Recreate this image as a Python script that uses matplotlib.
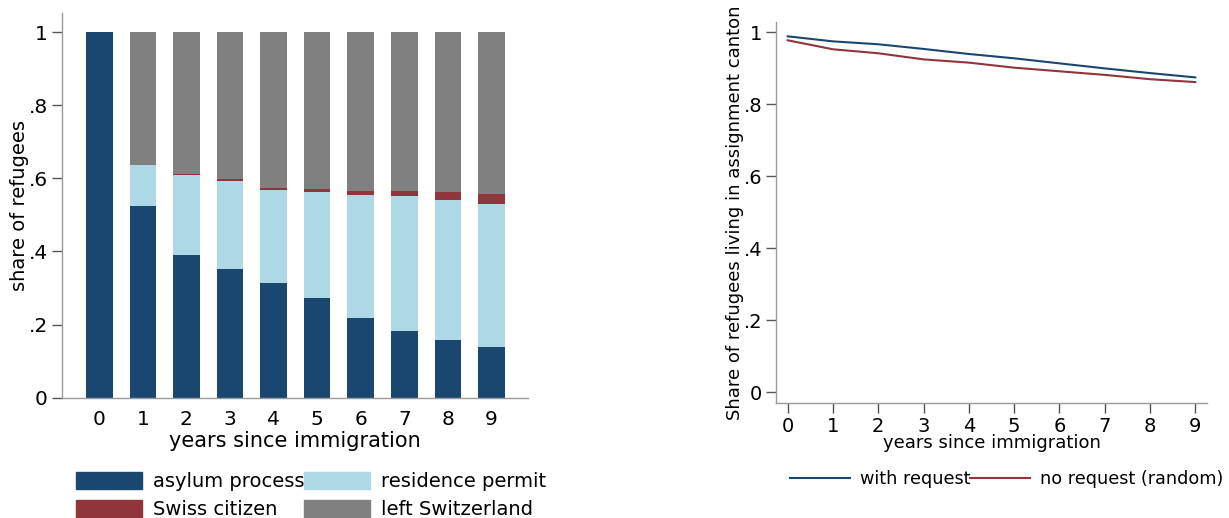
import numpy as np
import matplotlib
matplotlib.use("Agg")
import matplotlib.pyplot as plt
from matplotlib.patches import Patch
from matplotlib.lines import Line2D

# данные
years = np.arange(10)
asylum = [1.0, .524, .390, .352, .313, .273, .217, .182, .158, .138]
residence = [0.0, .111, .218, .241, .256, .289, .337, .370, .383, .393]
citizen = [0.0, .001, .004, .005, .004, .009, .011, .013, .021, .027]
left_ch = [1 - a - r - c for a, r, c in zip(asylum, residence, citizen)]

with_request = [.988, .974, .966, .953, .939, .927, .913, .899, .886, .874]
no_request = [.977, .952, .941, .924, .915, .901, .891, .881, .869, .861]

NAVY = '#1a476f'
LBLUE = '#add8e6'
MAROON = '#90353b'
GRAY = '#808080'
SPINE = '#9a9a9a'

W, H = 1229, 518
fig = plt.figure(figsize=(W / 100, H / 100), dpi=100)
plt.rcParams['font.family'] = 'DejaVu Sans'


def px_axes(l, r, b, t):
    return fig.add_axes([l / W, 1 - b / H, (r - l) / W, (b - t) / H])


# --- левый график: стековые столбцы ---
ax1 = px_axes(61.7, 528, 397.7, 13)
w = 0.61
bottom = np.zeros(10)
for vals, col, lab in [(asylum, NAVY, 'asylum process'),
                       (residence, LBLUE, 'residence permit'),
                       (citizen, MAROON, 'Swiss citizen'),
                       (left_ch, GRAY, 'left Switzerland')]:
    ax1.bar(years, vals, w, bottom=bottom, color=col, label=lab)
    bottom += np.array(vals)

ax1.set_xlim(-0.863, 9.84)
ax1.set_ylim(0, 1.052)
ax1.set_yticks([0, .2, .4, .6, .8, 1])
ax1.set_yticklabels(['0', '.2', '.4', '.6', '.8', '1'])
ax1.set_xticks(years)
ax1.tick_params(axis='y', length=7, width=1, color='#555555', labelsize=14.5, pad=3)
ax1.tick_params(axis='x', length=0, labelsize=14.5, pad=9)
ax1.set_xlabel('years since immigration', fontsize=15, labelpad=1.5)
ax1.set_ylabel('share of refugees', fontsize=14, labelpad=0)
for s in ['top', 'right']:
    ax1.spines[s].set_visible(False)
for s in ['left', 'bottom']:
    ax1.spines[s].set_color(SPINE)
    ax1.spines[s].set_linewidth(1)

handles = [Patch(color=NAVY), Patch(color=MAROON), Patch(color=LBLUE), Patch(color=GRAY)]
labels = ['asylum process', 'Swiss citizen', 'residence permit', 'left Switzerland']
fig.legend(handles, labels, ncol=2, loc='upper left',
           bbox_to_anchor=(76 / W, 1 - 472 / H), frameon=False, fontsize=14,
           handlelength=3.4, handleheight=1.0, handletextpad=0.55,
           columnspacing=0.0, labelspacing=0.45, borderpad=0, borderaxespad=0)

# --- правый график: линии ---
ax2 = px_axes(776, 1207.3, 403.3, 21.7)
ax2.plot(years, with_request, color=NAVY, lw=1.5)
ax2.plot(years, no_request, color=MAROON, lw=1.5)
ax2.set_xlim(-0.258, 9.265)
ax2.set_ylim(-0.0305, 1.0286)
ax2.set_yticks([0, .2, .4, .6, .8, 1])
ax2.set_yticklabels(['0', '.2', '.4', '.6', '.8', '1'])
ax2.set_xticks(years)
ax2.tick_params(length=7, width=1, color='#555555', labelsize=14, pad=3)
ax2.set_xlabel('years since immigration', fontsize=13, labelpad=-1.5)
ax2.set_ylabel('Share of refugees living in assignment canton', fontsize=13, labelpad=-0.5)
for s in ['top', 'right']:
    ax2.spines[s].set_visible(False)
for s in ['left', 'bottom']:
    ax2.spines[s].set_color(SPINE)
    ax2.spines[s].set_linewidth(1)

lh = [Line2D([], [], color=NAVY, lw=1.5), Line2D([], [], color=MAROON, lw=1.5)]
fig.legend(lh, ['with request', 'no request (random)'], ncol=2, loc='upper left',
           bbox_to_anchor=(790 / W, 1 - 470 / H), frameon=False, fontsize=12.7,
           handlelength=3.4, handletextpad=0.55, columnspacing=0.0,
           borderpad=0, borderaxespad=0)

fig.savefig('out.png', dpi=100)
